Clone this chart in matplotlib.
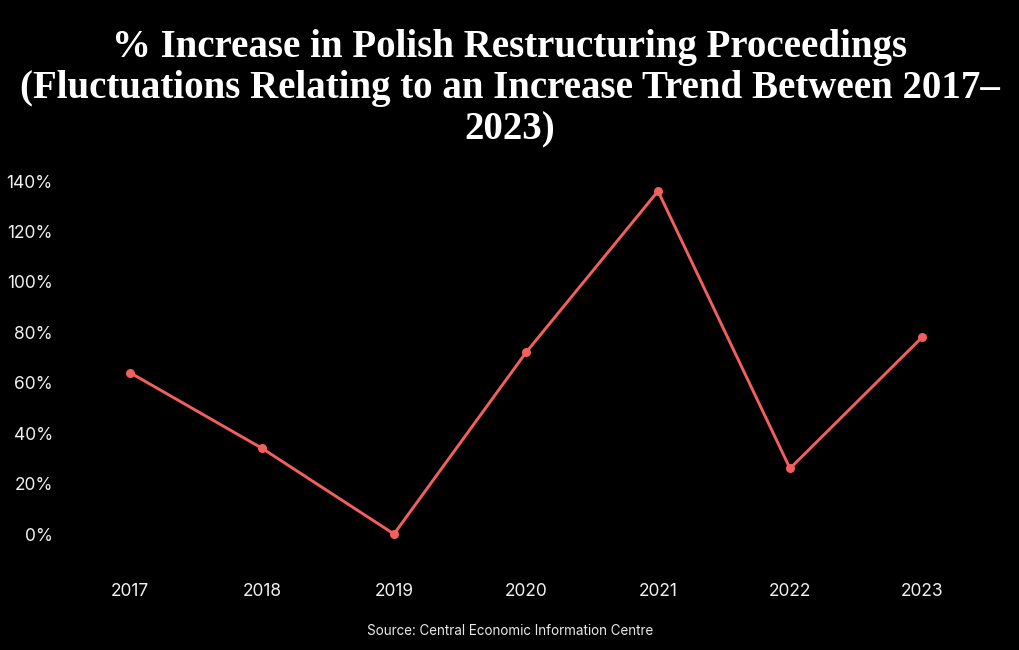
import matplotlib
matplotlib.use("Agg")
import matplotlib.pyplot as plt
from matplotlib.ticker import FuncFormatter

years = ["2017", "2018", "2019", "2020", "2021", "2022", "2023"]
increase_pct = [64, 34, 0, 72, 136, 26, 78]
y_ticks = [0, 20, 40, 60, 80, 100, 120, 140]

title = ("% Increase in Polish Restructuring Proceedings\n"
         "(Fluctuations Relating to an Increase Trend Between 2017–\n2023)")
source = "Source: Central Economic Information Centre"

W, H = 1020, 650
fig = plt.figure(figsize=(W / 100, H / 100), dpi=100)
fig.patch.set_facecolor("black")

left, right = 64, 988
top, bottom = 165.9, 569.3
ax = fig.add_axes([left / W, 1 - bottom / H, (right - left) / W, (bottom - top) / H])
ax.set_facecolor("black")

x = list(range(len(years)))
ax.plot(x, increase_pct, color="#F25F5F", linewidth=2.1, marker="o",
        markersize=6.5, markeredgewidth=0, zorder=3)

ax.set_xlim(-0.5, len(years) - 0.5)
ax.set_ylim(-14, 146)
ax.set_xticks(x)
ax.set_xticklabels(years)
ax.set_yticks(y_ticks)
ax.yaxis.set_major_formatter(FuncFormatter(lambda v, p: f"{int(v)}%"))

for s in ax.spines.values():
    s.set_visible(False)
ax.tick_params(axis="both", length=0, colors="white", labelsize=12.5)
ax.tick_params(axis="y", pad=8)
ax.tick_params(axis="x", pad=10)
for lbl in ax.get_xticklabels() + ax.get_yticklabels():
    lbl.set_fontfamily("Inter")
    lbl.set_color("#f0f0f0")

fig.text(0.5, 1 - 88.5 / H, title, ha="center", va="center", color="white",
         fontsize=28, fontweight="bold", family="Liberation Serif",
         linespacing=1.15)
fig.text(0.5, 1 - 631 / H, source, ha="center", va="center", color="#e8e8e8",
         fontsize=9.7, family="Inter")

fig.savefig("out.png", dpi=100, facecolor="black")
